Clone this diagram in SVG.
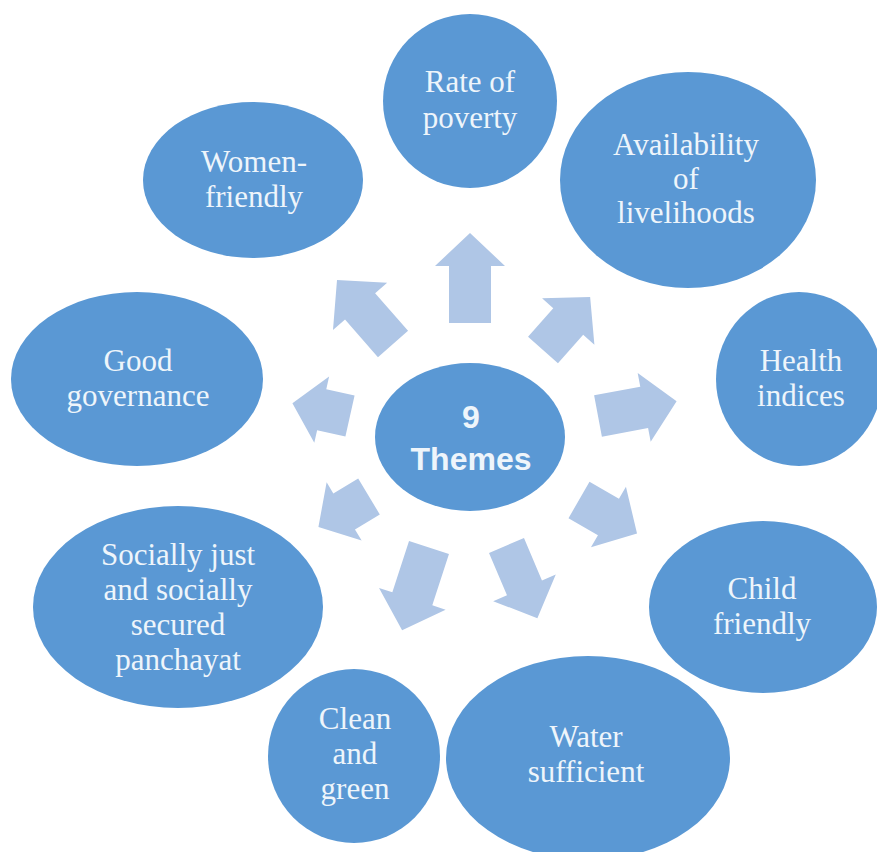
<svg xmlns="http://www.w3.org/2000/svg" width="877" height="852" viewBox="0 0 877 852">
<style>
.node{fill:#5A98D4;}
.lbl{font-family:"Liberation Serif","Times New Roman",serif;font-size:31px;fill:#EEF5FB;text-anchor:middle;}
.ctr{font-family:"Liberation Sans",Arial,sans-serif;font-size:32px;font-weight:bold;fill:#EEF5FB;text-anchor:middle;}
.arr{fill:#AFC6E6;}
</style>
<rect width="877" height="852" fill="#FFFFFF"/>
<g id="connectors">
<polygon class="arr" transform="translate(470,323) rotate(-90)" points="0,-21 57,-21 57,-35 90,0 57,35 57,21 0,21"/>
<polygon class="arr" transform="translate(543,350) rotate(-48.4)" points="0,-20 38,-20 38,-35 71,0 38,35 38,20 0,20"/>
<polygon class="arr" transform="translate(598,416) rotate(-10.7)" points="0,-21 47,-21 47,-35 80,0 47,35 47,21 0,21"/>
<polygon class="arr" transform="translate(579,500) rotate(30)" points="0,-21 34,-21 34,-35 67,0 34,35 34,21 0,21"/>
<polygon class="arr" transform="translate(506.5,545.5) rotate(67)" points="0,-19 46,-19 46,-34 79,0 46,34 46,19 0,19"/>
<polygon class="arr" transform="translate(429,547.5) rotate(108)" points="0,-21 54,-21 54,-35 87,0 54,35 54,21 0,21"/>
<polygon class="arr" transform="translate(369,496.5) rotate(149)" points="0,-21 29,-21 29,-34 59,0 29,34 29,21 0,21"/>
<polygon class="arr" transform="translate(350,416) rotate(192.6)" points="0,-21 29,-21 29,-34 59,0 29,34 29,21 0,21"/>
<polygon class="arr" transform="translate(393,344) rotate(228.8)" points="0,-20 50,-20 50,-36 85,0 50,36 50,20 0,20"/>
</g>
<g id="center">
<ellipse class="node" cx="470" cy="437" rx="95" ry="74"/>
<text class="ctr" x="471" y="428">9</text>
<text class="ctr" x="471" y="470">Themes</text>
</g>
<g id="rate-of-poverty">
<ellipse class="node" cx="470" cy="101" rx="87" ry="87"/>
<text class="lbl" x="470" y="92">Rate of</text>
<text class="lbl" x="470" y="128">poverty</text>
</g>
<g id="availability">
<ellipse class="node" cx="688" cy="180" rx="128" ry="108"/>
<text class="lbl" x="686" y="155">Availability</text>
<text class="lbl" x="686" y="189">of</text>
<text class="lbl" x="686" y="223">livelihoods</text>
</g>
<g id="health">
<ellipse class="node" cx="799" cy="379" rx="83" ry="87"/>
<text class="lbl" x="801" y="371">Health</text>
<text class="lbl" x="801" y="406">indices</text>
</g>
<g id="child">
<ellipse class="node" cx="763" cy="607" rx="114" ry="86"/>
<text class="lbl" x="762" y="599">Child</text>
<text class="lbl" x="762" y="634">friendly</text>
</g>
<g id="water">
<ellipse class="node" cx="588" cy="758" rx="142" ry="102"/>
<text class="lbl" x="586" y="747">Water</text>
<text class="lbl" x="586" y="782">sufficient</text>
</g>
<g id="clean">
<ellipse class="node" cx="354" cy="756" rx="86" ry="87"/>
<text class="lbl" x="355" y="729">Clean</text>
<text class="lbl" x="355" y="764">and</text>
<text class="lbl" x="355" y="799">green</text>
</g>
<g id="socially">
<ellipse class="node" cx="178" cy="607" rx="145" ry="101"/>
<text class="lbl" x="178" y="565">Socially just</text>
<text class="lbl" x="178" y="600">and socially</text>
<text class="lbl" x="178" y="635">secured</text>
<text class="lbl" x="178" y="670">panchayat</text>
</g>
<g id="governance">
<ellipse class="node" cx="137" cy="379" rx="126" ry="87"/>
<text class="lbl" x="138" y="371">Good</text>
<text class="lbl" x="138" y="406">governance</text>
</g>
<g id="women">
<ellipse class="node" cx="253" cy="180" rx="110" ry="78"/>
<text class="lbl" x="254" y="172">Women-</text>
<text class="lbl" x="254" y="207">friendly</text>
</g>
</svg>
